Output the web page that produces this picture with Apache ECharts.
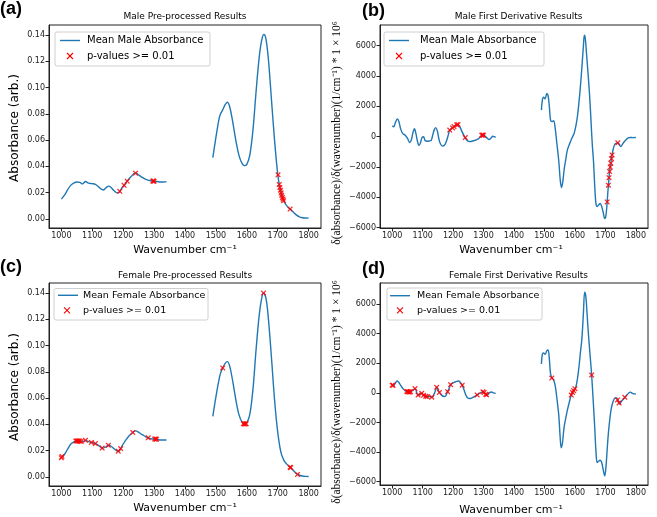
<!DOCTYPE html>
<html><head><meta charset="utf-8">
<script src="https://cdn.jsdelivr.net/npm/echarts@6/dist/echarts.min.js"></script>
<style>html,body{margin:0;padding:0;background:#fff}#c{width:657px;height:517px}</style>
</head><body><div id="c"></div>
<script>
// ---- data ----
const xTicks = [1000,1100,1200,1300,1400,1500,1600,1700,1800];
const absTicks = [0,0.02,0.04,0.06,0.08,0.10,0.12,0.14];
const derTicks = [-6000,-4000,-2000,0,2000,4000,6000];
const panelTitles = ['Male Pre-processed Results','Male First Derivative Results','Female Pre-processed Results','Female First Derivative Results'];
const lineNames = ['Mean Male Absorbance','Mean Male Absorbance','Mean Female Absorbance','Mean Female Absorbance'];
const markName = 'p-values >= 0.01';

const maleAbsLeft = [[1000,0.015],[1010,0.018],[1020,0.022],[1030,0.0255],[1040,0.0272],[1050,0.028],[1060,0.0278],[1068,0.0266],[1078,0.0284],[1088,0.0272],[1100,0.0268],[1110,0.0262],[1120,0.0245],[1128,0.0228],[1135,0.022],[1145,0.0238],[1153,0.0249],[1160,0.024],[1170,0.0215],[1180,0.0198],[1187,0.0202],[1195,0.0232],[1203,0.0255],[1213,0.0287],[1225,0.032],[1235,0.0345],[1241,0.0348],[1250,0.0335],[1260,0.0318],[1270,0.0305],[1280,0.0295],[1290,0.029],[1300,0.0287],[1310,0.0284],[1320,0.028],[1330,0.0281],[1340,0.0282]];
const maleAbsRight = [[1490,0.0466],[1500,0.062],[1510,0.076],[1515,0.080],[1522,0.083],[1530,0.087],[1537,0.0888],[1545,0.085],[1555,0.073],[1565,0.059],[1575,0.048],[1585,0.042],[1593,0.0405],[1600,0.0415],[1610,0.049],[1620,0.068],[1630,0.097],[1640,0.123],[1648,0.136],[1655,0.1405],[1662,0.137],[1670,0.121],[1680,0.090],[1690,0.059],[1700,0.034],[1705,0.0262],[1710,0.0208],[1715,0.0163],[1720,0.0132],[1730,0.0097],[1740,0.0074],[1750,0.0052],[1760,0.003],[1770,0.0015],[1780,0.0008],[1790,0.0006],[1800,0.0005]];
const maleAbsMarks = [[1189,0.021],[1203,0.0255],[1213,0.0287],[1240,0.0348],[1296,0.0288],[1298,0.0288],[1300,0.0287],[1701,0.0335],[1705,0.0262],[1707,0.0238],[1709,0.0218],[1711,0.0198],[1713,0.018],[1715,0.0163],[1717,0.015],[1719,0.0137],[1740,0.0074]];

const femaleAbsLeft = [[1000,0.0145],[1010,0.017],[1020,0.021],[1030,0.0248],[1040,0.0267],[1050,0.0273],[1060,0.0272],[1068,0.0268],[1078,0.0278],[1088,0.0268],[1100,0.026],[1110,0.0253],[1120,0.024],[1128,0.0225],[1133,0.0218],[1145,0.023],[1153,0.024],[1160,0.0235],[1170,0.0215],[1180,0.0198],[1186,0.0194],[1192,0.0215],[1200,0.025],[1210,0.0285],[1220,0.0315],[1231,0.0338],[1240,0.035],[1248,0.0343],[1260,0.0323],[1270,0.031],[1280,0.0298],[1290,0.029],[1300,0.0288],[1310,0.0287],[1320,0.028],[1330,0.028],[1340,0.028]];
const femaleAbsRight = [[1490,0.046],[1500,0.061],[1510,0.074],[1515,0.079],[1522,0.083],[1530,0.0865],[1537,0.0878],[1545,0.084],[1555,0.072],[1565,0.058],[1575,0.047],[1585,0.0415],[1593,0.0403],[1600,0.041],[1610,0.048],[1620,0.067],[1630,0.097],[1640,0.123],[1648,0.136],[1654,0.140],[1662,0.136],[1670,0.120],[1680,0.090],[1690,0.058],[1700,0.034],[1710,0.019],[1720,0.0125],[1730,0.0095],[1740,0.0073],[1750,0.005],[1760,0.0025],[1770,0.0012],[1780,0.0006],[1790,0.0003],[1800,0.0002]];
const femaleAbsMarks = [[1000,0.0145],[1002,0.0155],[1047,0.0272],[1050,0.0273],[1053,0.0273],[1056,0.0273],[1059,0.0272],[1064,0.027],[1078,0.0278],[1097,0.0262],[1110,0.0253],[1132,0.0219],[1152,0.024],[1184,0.0195],[1192,0.0215],[1231,0.0338],[1281,0.0297],[1302,0.0288],[1305,0.0288],[1308,0.0287],[1522,0.083],[1589,0.0405],[1592,0.0403],[1595,0.0403],[1598,0.0405],[1654,0.140],[1740,0.0073],[1742,0.007],[1764,0.0018]];

const maleDerLeft = [[1000,720],[1005,650],[1010,900],[1017,1170],[1022,1000],[1028,500],[1035,200],[1043,100],[1050,-100],[1058,-380],[1063,-200],[1068,250],[1073,520],[1078,200],[1083,-300],[1088,-580],[1093,-400],[1098,-50],[1103,0],[1108,-250],[1115,-300],[1122,-280],[1128,-250],[1133,100],[1138,450],[1143,600],[1148,400],[1153,-100],[1158,-450],[1165,-620],[1172,-550],[1178,-300],[1184,100],[1189,440],[1196,560],[1202,660],[1210,760],[1216,800],[1222,650],[1228,400],[1235,100],[1240,-60],[1246,-250],[1254,-320],[1262,-300],[1270,-250],[1278,-200],[1285,-100],[1292,50],[1297,110],[1303,80],[1310,-60],[1318,-180],[1325,-80],[1330,30],[1335,0],[1340,-40]];
const maleDerRight = [[1490,1750],[1493,2400],[1497,2600],[1502,2500],[1508,2850],[1512,2700],[1516,2000],[1520,1100],[1525,1000],[1530,1050],[1535,600],[1540,-300],[1547,-1600],[1552,-2900],[1556,-3350],[1560,-3000],[1565,-2100],[1570,-1500],[1575,-900],[1582,-500],[1590,-100],[1597,200],[1603,700],[1608,1300],[1613,2200],[1618,3300],[1623,4600],[1628,6000],[1631,6700],[1634,6500],[1638,5500],[1643,4200],[1648,2800],[1653,1000],[1657,-500],[1661,-1600],[1665,-3200],[1669,-4400],[1673,-4600],[1678,-4500],[1683,-4400],[1688,-4600],[1693,-5000],[1698,-5400],[1701,-5300],[1704,-4800],[1706,-4300],[1708,-3700],[1710,-3200],[1712,-2700],[1714,-2300],[1716,-2000],[1718,-1750],[1720,-1450],[1722,-1200],[1726,-800],[1731,-500],[1736,-420],[1741,-400],[1746,-550],[1751,-650],[1756,-500],[1762,-330],[1768,-200],[1775,-80],[1782,-50],[1790,-60],[1800,-50]];
const maleDerMarks = [[1189,440],[1198,580],[1203,670],[1212,780],[1216,800],[1240,-60],[1294,100],[1297,110],[1300,100],[1706,-4300],[1710,-3200],[1712,-2700],[1714,-2300],[1716,-2000],[1718,-1750],[1720,-1450],[1722,-1200],[1741,-400]];

const femaleDerLeft = [[1000,520],[1005,500],[1010,650],[1016,800],[1022,700],[1028,500],[1035,300],[1043,130],[1050,90],[1055,60],[1060,80],[1066,150],[1072,260],[1076,290],[1080,50],[1085,-150],[1090,-100],[1096,-20],[1102,-150],[1108,-220],[1114,-250],[1120,-230],[1126,-260],[1132,-300],[1137,-100],[1142,150],[1146,380],[1150,250],[1155,30],[1162,-150],[1170,-240],[1176,-200],[1181,50],[1186,250],[1192,550],[1198,650],[1205,720],[1212,780],[1218,800],[1224,700],[1230,520],[1236,200],[1242,-150],[1248,-350],[1255,-380],[1262,-330],[1270,-250],[1278,-150],[1285,-50],[1292,40],[1298,70],[1304,-20],[1309,-130],[1315,-100],[1320,20],[1326,60],[1332,0],[1340,-30]];
const femaleDerRight = [[1490,1950],[1493,2600],[1497,2700],[1502,2600],[1508,2850],[1512,2900],[1516,2300],[1520,1300],[1525,1000],[1530,900],[1536,400],[1541,-400],[1547,-1500],[1551,-2800],[1555,-3700],[1559,-3400],[1564,-2400],[1570,-1700],[1576,-1100],[1582,-600],[1588,-150],[1593,50],[1598,200],[1603,400],[1608,900],[1613,1700],[1618,2700],[1623,3700],[1628,5400],[1632,6800],[1636,6500],[1640,5300],[1645,3800],[1650,2500],[1655,1200],[1660,-500],[1665,-2300],[1669,-3900],[1673,-4700],[1678,-4600],[1683,-4550],[1688,-4700],[1693,-5200],[1698,-5600],[1702,-5000],[1706,-3800],[1710,-2700],[1715,-1700],[1720,-1000],[1726,-550],[1732,-350],[1737,-350],[1742,-550],[1747,-750],[1752,-600],[1758,-450],[1764,-300],[1770,-150],[1776,-20],[1782,50],[1790,-50],[1800,-80]];
const femaleDerMarks = [[1000,520],[1003,510],[1048,100],[1051,85],[1054,65],[1057,60],[1060,80],[1075,290],[1085,-150],[1097,-30],[1103,-160],[1110,-230],[1115,-250],[1130,-290],[1146,380],[1155,30],[1182,80],[1192,550],[1230,520],[1279,-140],[1298,70],[1302,30],[1307,-100],[1310,-130],[1524,1000],[1588,-150],[1592,30],[1596,150],[1600,280],[1655,1200],[1740,-480],[1745,-680],[1764,-300]];

// ---- layout ----
const panels = [
  {grid:{left:49,top:25,width:272,height:203}, y:[-0.007,0.1477], ticks:absTicks, kind:'abs', lines:[maleAbsLeft,maleAbsRight], marks:maleAbsMarks},
  {grid:{left:380,top:25,width:268,height:203}, y:[-6020,7365], ticks:derTicks, kind:'der', lines:[maleDerLeft,maleDerRight], marks:maleDerMarks},
  {grid:{left:49,top:283,width:272,height:203}, y:[-0.007,0.1477], ticks:absTicks, kind:'abs', lines:[femaleAbsLeft,femaleAbsRight], marks:femaleAbsMarks},
  {grid:{left:380,top:283,width:268,height:202}, y:[-6220,7420], ticks:derTicks, kind:'der', lines:[femaleDerLeft,femaleDerRight], marks:femaleDerMarks}
];
const BLUE = '#1f77b4', RED = '#ff0000', AX = '#222';
const XSYM = 'path://M1.6,0L5,3.4L8.4,0L10,1.6L6.6,5L10,8.4L8.4,10L5,6.6L1.6,10L0,8.4L3.4,5L0,1.6Z';
const FONT = 'DejaVu Sans';

const grids=[], xAxes=[], yAxes=[], series=[];
panels.forEach((p,i)=>{
  grids.push(Object.assign({show:true, borderColor:AX, borderWidth:1, backgroundColor:'#fff'}, p.grid));
  xAxes.push({type:'value', gridIndex:i, min:960, max:1840,
    axisLine:{show:true, onZero:false, lineStyle:{color:AX, width:1}},
    axisTick:{show:true, length:3.5, customValues:xTicks, lineStyle:{color:AX}},
    axisLabel:{customValues:xTicks, fontSize:8, color:AX, fontFamily:FONT, margin:4, formatter: v => String(v)},
    splitLine:{show:false}});
  yAxes.push({type:'value', gridIndex:i, min:p.y[0], max:p.y[1],
    axisLine:{show:true, onZero:false, lineStyle:{color:AX, width:1}},
    axisTick:{show:true, length:3.5, customValues:p.ticks, lineStyle:{color:AX}},
    axisLabel:{customValues:p.ticks, fontSize:8, color:AX, fontFamily:FONT, margin:4,
      formatter: v => p.kind==='abs' ? v.toFixed(2) : (v<0 ? '\u2212'+Math.abs(v) : String(v))},
    splitLine:{show:false}});
  p.lines.forEach(seg=>{
    series.push({type:'line', name:lineNames[i], xAxisIndex:i, yAxisIndex:i, data:seg, smooth:0.35,
      symbol:'none', lineStyle:{color:BLUE, width:1.4}, z:2, silent:true, animation:false});
  });
  series.push({type:'scatter', name:markName, xAxisIndex:i, yAxisIndex:i, data:p.marks, symbol:XSYM,
    symbolSize:5.5, itemStyle:{color:RED, opacity:0.85}, z:3, silent:true, animation:false});
});

// ---- decorations (text & legends) ----
const g = [];
function txt(x,y,s,opt){ g.push(Object.assign({type:'text', x:x, y:y, silent:true, style:Object.assign({text:s, fill:'#000', font:'9px '+FONT, textAlign:'center', textVerticalAlign:'middle'}, opt&&opt.style||{})}, opt&&opt.el||{})); }
// panel letters
[['(a)',0,9],['(b)',362,11.5],['(c)',0,267.5],['(d)',362,269.5]].forEach(a=>txt(a[1],a[2],a[0],{style:{font:'bold 18px "Liberation Sans"', textAlign:'left'}}));
// titles
[[185,17],[518.5,17],[185,276],[518.5,275.5]].forEach((c,i)=>txt(c[0],c[1],panelTitles[i],{style:{font:'9px '+FONT}}));
// x axis names
[[185,250.5],[511,250],[185,508.5],[511,510]].forEach(c=>txt(c[0],c[1],'Wavenumber cm\u207B\u00B9',{style:{font:'11px '+FONT}}));
// y axis names
[[15,128],[15,387]].forEach(c=>txt(c[0],c[1],'Absorbance (arb.)',{style:{font:'12px '+FONT}, el:{rotation:Math.PI/2}}));
[[337,133],[337,392]].forEach(c=>txt(c[0],c[1],'\u03B4(absorbance)/\u03B4(wavenumber)(1/cm\u207B\u00B9) * 1 \u00D7 10\u2076',{style:{font:'11.5px "Liberation Serif"'}, el:{rotation:Math.PI/2}}));
// legends
const legends = [
  {box:[55,32,155,34], r1:40.5, r2:56, lx:[60,80], mx:70, tx:87, fs:10, name:lineNames[0]},
  {box:[384,32,160,34], r1:40.5, r2:56, lx:[389,409], mx:399, tx:420, fs:10, name:lineNames[1]},
  {box:[54,288.5,154,31.5], r1:295.3, r2:310.3, lx:[58,78], mx:67, tx:83, fs:9.5, name:lineNames[2]},
  {box:[387,288,155,32], r1:295.7, r2:310.3, lx:[390,410], mx:400, tx:417, fs:9.5, name:lineNames[3]}
];
legends.forEach(L=>{
  g.push({type:'rect', silent:true, shape:{x:L.box[0],y:L.box[1],width:L.box[2],height:L.box[3],r:2}, style:{fill:'rgba(255,255,255,0.8)', stroke:'#d0d0d0', lineWidth:1}, z:10});
  g.push({type:'line', silent:true, shape:{x1:L.lx[0],y1:L.r1,x2:L.lx[1],y2:L.r1}, style:{stroke:BLUE, lineWidth:1.4}, z:11});
  g.push({type:'line', silent:true, shape:{x1:L.mx-3,y1:L.r2-3,x2:L.mx+3,y2:L.r2+3}, style:{stroke:RED, lineWidth:1.1}, z:11});
  g.push({type:'line', silent:true, shape:{x1:L.mx-3,y1:L.r2+3,x2:L.mx+3,y2:L.r2-3}, style:{stroke:RED, lineWidth:1.1}, z:11});
  g.push({type:'text', silent:true, x:L.tx, y:L.r1, z:11, style:{text:L.name, fill:'#000', font:L.fs+'px '+FONT, textAlign:'left', textVerticalAlign:'middle'}});
  g.push({type:'text', silent:true, x:L.tx, y:L.r2, z:11, style:{text:markName, fill:'#000', font:L.fs+'px '+FONT, textAlign:'left', textVerticalAlign:'middle'}});
});

const chart = echarts.init(document.getElementById('c'), null, {renderer:'canvas'});
chart.setOption({backgroundColor:'#fff', animation:false, grid:grids, xAxis:xAxes, yAxis:yAxes, series:series, graphic:{elements:g}});
</script></body></html>
